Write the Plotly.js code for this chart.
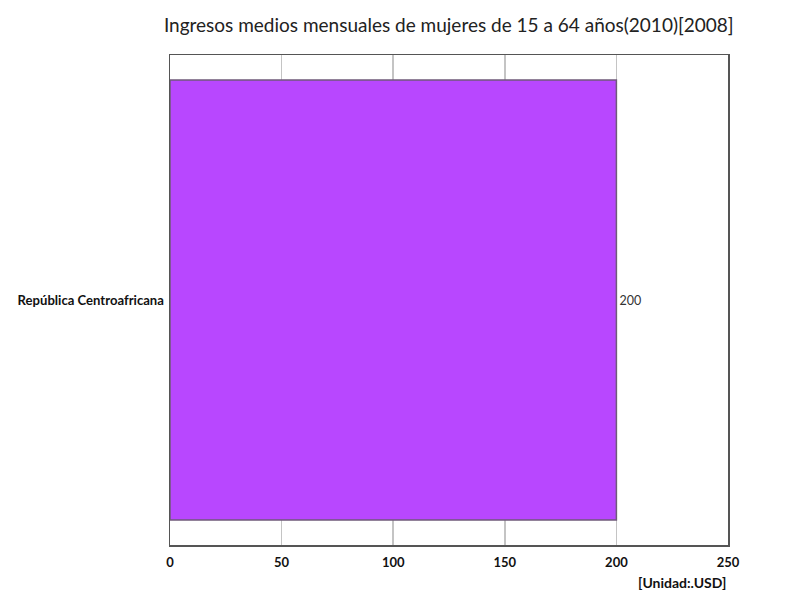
<!DOCTYPE html>
<html>
<head>
<meta charset="utf-8">
<script src="https://cdn.plot.ly/plotly-3.0.1.min.js"></script>
<style>body{margin:0;background:#fff}</style>
</head>
<body>
<div id="chart" style="width:800px;height:600px"></div>
<script>
var countries = ["República Centroafricana"];
var incomes = [200];
var unitLabel = "[Unidad:.USD]";

var trace = {
    type: 'bar',
    orientation: 'h',
    y: countries,
    x: incomes,
    width: 0.898,
    text: incomes.map(String),
    textposition: 'outside',
    cliponaxis: false,
    textfont: {family: 'Lato, sans-serif', size: 12.5, color: '#333'},
    marker: {color: '#b847ff', line: {color: '#6f5a7a', width: 1.5}},
    hoverinfo: 'none'
};

var layout = {
    width: 800,
    height: 600,
    margin: {l: 170, r: 72, t: 55, b: 55},
    paper_bgcolor: '#fff',
    plot_bgcolor: '#fff',
    showlegend: false,
    title: {
        text: 'Ingresos medios mensuales de mujeres de 15 a 64 años(2010)[2008]',
        font: {family: 'Lato, sans-serif', size: 19, color: '#222'},
        x: 0.561, xanchor: 'center', y: 0.958, yanchor: 'middle'
    },
    xaxis: {
        range: [0, 250],
        tickvals: [0, 50, 100, 150, 200, 250],
        showgrid: true,
        gridcolor: '#c4c4c4',
        gridwidth: 1.5,
        zeroline: false,
        showline: true,
        linecolor: '#555',
        linewidth: 1.5,
        mirror: true,
        ticks: '',
        ticklabelstandoff: 5,
        tickfont: {family: 'Lato, sans-serif', size: 13, color: '#111', weight: 'bold'},
        fixedrange: true
    },
    yaxis: {
        showgrid: false,
        zeroline: false,
        showline: true,
        linecolor: '#555',
        linewidth: 1.5,
        mirror: true,
        ticks: '',
        ticklabelstandoff: 2,
        tickfont: {family: 'Lato, sans-serif', size: 13.1, color: '#111', weight: 'bold'},
        fixedrange: true
    },
    annotations: [{
        text: unitLabel,
        xref: 'paper', yref: 'paper',
        x: 1, xanchor: 'right',
        y: -0.077, yanchor: 'middle',
        showarrow: false,
        font: {family: 'Lato, sans-serif', size: 14, color: '#111', weight: 'bold'}
    }]
};

Plotly.newPlot('chart', [trace], layout, {displayModeBar: false, staticPlot: true});
</script>
</body>
</html>
